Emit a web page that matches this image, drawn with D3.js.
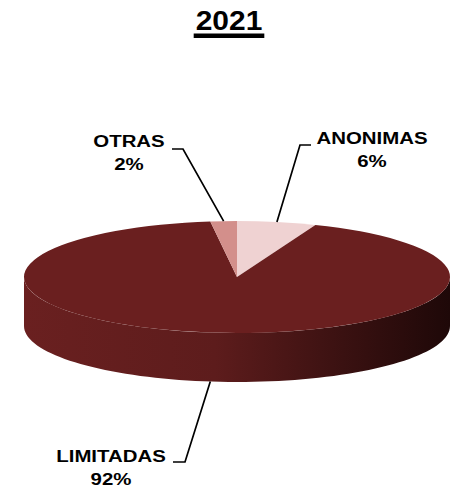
<!DOCTYPE html>
<html lang="es">
<head>
<meta charset="utf-8">
<script src="https://d3js.org/d3.v7.min.js"></script>
<style>
  body { margin: 0; background: #fff; }
  text { font-family: Arial, "Liberation Sans", sans-serif; font-weight: bold; fill: #000; }
</style>
</head>
<body>
<div id="chart"></div>
<script>
// data
var categories = ["ANONIMAS", "LIMITADAS", "OTRAS"];
var values = [6, 92, 2];
var colors = ["#efd2d2", "#6a1f1f", "#d38f8b"];
var title = "2021";

var width = 450, height = 491;
var cx = 237, cy = 277, rx = 213, ry = 56, depth = 49;
var k = ry / rx;

// label layout: text centre, line elbow, horizontal tail end
var labelPos = {
  "ANONIMAS": { x: 372, y: 144, elbow: [300, 145], tail: [311, 145] },
  "OTRAS":    { x: 129, y: 147, elbow: [183, 149], tail: [172, 149] },
  "LIMITADAS":{ x: 111, y: 462, elbow: [185, 462], tail: [173, 462] }
};

var svg = d3.select("#chart").append("svg")
    .attr("width", width)
    .attr("height", height);

// title
var t = svg.append("text")
    .attr("transform", "translate(229,30) scale(1.07,1)")
    .attr("text-anchor", "middle")
    .style("font-size", "28px")
    .text(title);
var tw = t.node().getComputedTextLength() * 1.07;
svg.append("rect")
    .attr("x", 229 - tw / 2 - 2)
    .attr("y", 33.5)
    .attr("width", tw + 4)
    .attr("height", 4.5)
    .attr("fill", "#000");

var data = categories.map(function(c, i) { return { name: c, value: values[i], color: colors[i] }; });

// pie clockwise from 12 o'clock; ANONIMAS starts at top, OTRAS ends at top
var pie = d3.pie().sort(null).value(function(d) { return d.value; });
var arcs = pie(data);

// side gradient
var defs = svg.append("defs");
var grad = defs.append("linearGradient")
    .attr("id", "sideGrad")
    .attr("x1", "0%").attr("x2", "100%").attr("y1", "0%").attr("y2", "0%");
grad.append("stop").attr("offset", "0%").attr("stop-color", "#6a2020");
grad.append("stop").attr("offset", "45%").attr("stop-color", "#5d1c1c");
grad.append("stop").attr("offset", "75%").attr("stop-color", "#3a1111");
grad.append("stop").attr("offset", "100%").attr("stop-color", "#1e0808");

function rim(a, dy) {
  return [cx + rx * Math.sin(a), cy - ry * Math.cos(a) + (dy || 0)];
}

function sidePath(a0, a1) {
  var n = 80, pts = [];
  for (var i = 0; i <= n; i++) pts.push(rim(a0 + (a1 - a0) * i / n, 0));
  for (var j = n; j >= 0; j--) pts.push(rim(a0 + (a1 - a0) * j / n, depth));
  return d3.line()(pts) + "Z";
}

// front wall (visible between 90deg and 270deg)
arcs.forEach(function(a) {
  var s = Math.max(a.startAngle, Math.PI / 2);
  var e = Math.min(a.endAngle, 3 * Math.PI / 2);
  if (e <= s) return;
  svg.append("path")
      .attr("d", sidePath(s, e))
      .attr("fill", a.data.name === "LIMITADAS" ? "url(#sideGrad)" : d3.color(a.data.color).darker(0.8));
});

// top faces
var arc = d3.arc().innerRadius(0).outerRadius(rx);
svg.append("g")
    .attr("transform", "translate(" + cx + "," + cy + ") scale(1," + k + ")")
  .selectAll("path")
  .data(arcs)
  .join("path")
    .attr("d", arc)
    .attr("fill", function(d) { return d.data.color; });

// leader lines + labels
var total = d3.sum(values);
arcs.forEach(function(a) {
  var p = labelPos[a.data.name];
  var mid = (a.startAngle + a.endAngle) / 2;
  var front = Math.cos(mid) < 0;
  var end = rim(mid, front ? depth : 0);
  svg.append("path")
      .attr("d", d3.line()([p.tail, p.elbow, end]))
      .attr("fill", "none")
      .attr("stroke", "#000")
      .attr("stroke-width", 1.7);
  var g = svg.append("text")
      .attr("transform", "translate(" + p.x + "," + p.y + ") scale(1.2,1)")
      .attr("text-anchor", "middle")
      .style("font-size", "17px");
  g.append("tspan").attr("x", 0).attr("y", 0).text(a.data.name);
  g.append("tspan").attr("x", 0).attr("y", 23)
      .text(Math.round(a.data.value / total * 100) + "%");
});
</script>
</body>
</html>
